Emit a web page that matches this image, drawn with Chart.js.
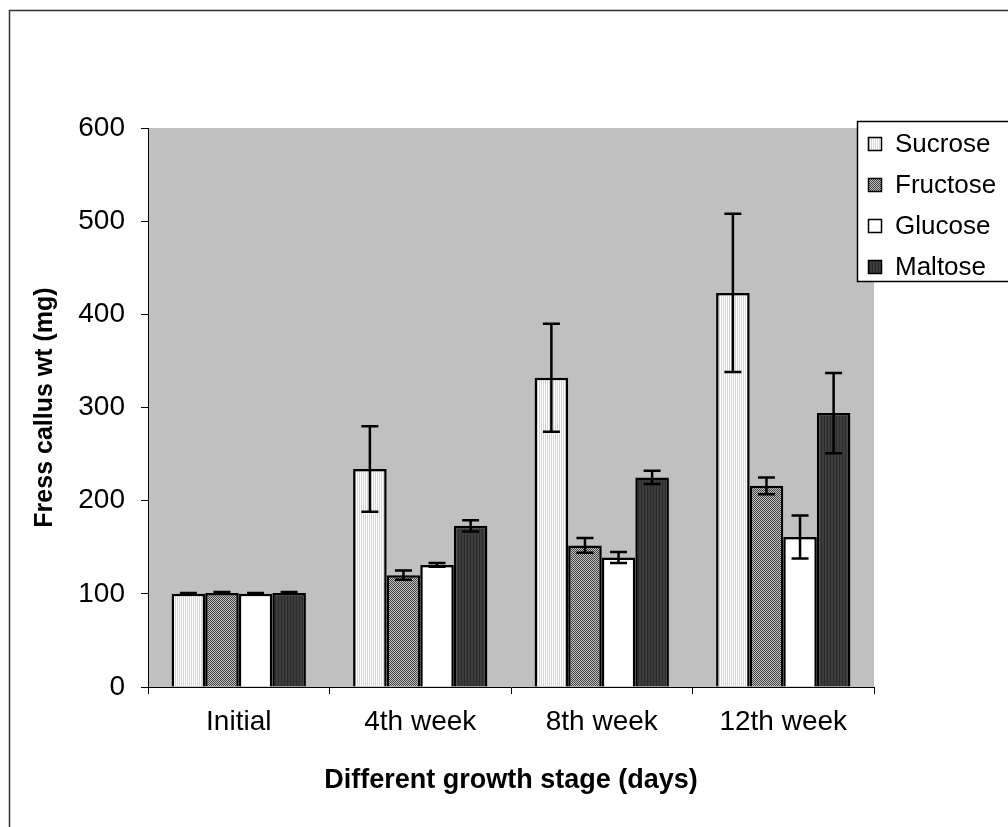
<!DOCTYPE html>
<html>
<head>
<meta charset="utf-8">
<script src="https://cdn.jsdelivr.net/npm/chart.js@4/dist/chart.umd.min.js"></script>
<style>
  html, body { margin: 0; padding: 0; background: #fff; }
  #wrap { width: 1008px; height: 827px; position: relative; }
</style>
</head>
<body>
<div id="wrap"><canvas id="callusChart" width="1008" height="827"></canvas></div>
<script>
// categories and values
const categories = ["Initial", "4th week", "8th week", "12th week"];
const sucrose = [100, 234, 332, 423];
const sucroseErr = [1, 46, 58, 85];
const fructose = [101, 120, 152, 216];
const fructoseErr = [1, 5, 8, 9];
const glucose = [100, 131, 139, 161];
const glucoseErr = [1, 2, 6, 23];
const maltose = [101, 173, 225, 294];
const maltoseErr = [1, 6, 7, 43];
const yTicks = [0, 100, 200, 300, 400, 500, 600];

// small fill patterns, like the old office chart
function makePattern(w, h, paint) {
    let c = document.createElement("canvas");
    c.width = w;
    c.height = h;
    let p = c.getContext("2d");
    paint(p);
    return p.createPattern(c, "repeat");
}

let patSucrose = makePattern(2, 1, function (p) {
    p.fillStyle = "#ffffff"; p.fillRect(0, 0, 1, 1);
    p.fillStyle = "#d6d6d6"; p.fillRect(1, 0, 1, 1);
});
let patFructose = makePattern(2, 2, function (p) {
    p.fillStyle = "#c4c4c4"; p.fillRect(0, 0, 2, 2);
    p.fillStyle = "#404040"; p.fillRect(0, 0, 1, 1); p.fillRect(1, 1, 1, 1);
});
let patGlucose = "#ffffff";
let patMaltose = makePattern(3, 1, function (p) {
    p.fillStyle = "#3c3c3c"; p.fillRect(0, 0, 3, 1);
    p.fillStyle = "#2e2e2e"; p.fillRect(2, 0, 1, 1);
});

const errors = [sucroseErr, fructoseErr, glucoseErr, maltoseErr];

let plotBackground = {
    id: "plotBackground",
    beforeDraw(chart) {
        let c = chart.ctx, a = chart.chartArea;
        c.save();
        // figure frame (right and bottom run off the picture)
        c.strokeStyle = "#333333";
        c.lineWidth = 1.5;
        c.strokeRect(9.5, 10.5, 1100, 1000);
        c.fillStyle = "#c0c0c0";
        c.fillRect(a.left, a.top, a.right - a.left, a.bottom - a.top);
        c.restore();
    }
};

let errorBars = {
    id: "errorBars",
    afterDatasetsDraw(chart) {
        let c = chart.ctx, y = chart.scales.y;
        c.save();
        c.strokeStyle = "#000";
        c.lineWidth = 2.5;
        chart.data.datasets.forEach(function (ds, i) {
            let meta = chart.getDatasetMeta(i);
            meta.data.forEach(function (bar, j) {
                let v = ds.data[j], e = errors[i][j];
                let top = y.getPixelForValue(v + e);
                let bot = y.getPixelForValue(v - e);
                c.beginPath();
                c.moveTo(bar.x, top); c.lineTo(bar.x, bot);
                c.moveTo(bar.x - 8.5, top); c.lineTo(bar.x + 8.5, top);
                c.moveTo(bar.x - 8.5, bot); c.lineTo(bar.x + 8.5, bot);
                c.stroke();
            });
        });
        c.restore();
    }
};

let boxLegend = {
    id: "boxLegend",
    afterDraw(chart) {
        let c = chart.ctx;
        c.save();
        c.fillStyle = "#ffffff";
        c.fillRect(857, 121, 170, 160);
        c.strokeStyle = "#000";
        c.lineWidth = 1.5;
        c.strokeRect(857.5, 121.5, 170, 160);
        c.font = "26px 'Liberation Sans', Arial, sans-serif";
        c.textBaseline = "middle";
        chart.data.datasets.forEach(function (ds, i) {
            let cy = 144 + i * 41;
            c.fillStyle = ds.backgroundColor;
            c.fillRect(868, cy - 7, 14, 14);
            c.lineWidth = 1.5;
            c.strokeRect(868.5, cy - 6.5, 13, 13);
            c.fillStyle = "#000";
            c.fillText(ds.label, 895, cy + 1);
        });
        c.restore();
    }
};

let ctx = document.getElementById("callusChart").getContext("2d");

let barData = {
    labels: categories,
    datasets: [
        { label: "Sucrose", data: sucrose, backgroundColor: patSucrose },
        { label: "Fructose", data: fructose, backgroundColor: patFructose },
        { label: "Glucose", data: glucose, backgroundColor: patGlucose },
        { label: "Maltose", data: maltose, backgroundColor: patMaltose }
    ]
};
barData.datasets.forEach(function (ds) {
    ds.borderColor = "#000";
    ds.borderWidth = 2.5;
    ds.borderSkipped = "bottom";
    ds.categoryPercentage = 0.74;
    ds.barPercentage = 1.0;
});

let tickFont = { family: "'Liberation Sans', Arial, sans-serif", size: 28 };

let myChart = new Chart(ctx, {
    type: "bar",
    data: barData,
    plugins: [plotBackground, errorBars, boxLegend],
    options: {
        responsive: false,
        animation: false,
        layout: { padding: { left: 0, right: 134, top: 128, bottom: 0 } },
        plugins: {
            legend: { display: false },
            tooltip: { enabled: false }
        },
        scales: {
            x: {
                afterFit(scale) { scale.height = 140; },
                grid: { display: true, drawOnChartArea: false, drawTicks: true, tickLength: 7, color: "#000", offset: true },
                border: { display: true, color: "#000", width: 1 },
                ticks: { color: "#000", font: tickFont, padding: 11, maxRotation: 0 },
                title: {
                    display: true,
                    text: "Different growth stage (days)",
                    color: "#000",
                    font: { family: "'Liberation Sans', Arial, sans-serif", size: 27, weight: "bold" },
                    padding: { top: 0, bottom: 30 }
                }
            },
            y: {
                min: 0,
                max: 600,
                afterFit(scale) { scale.width = 148; },
                afterBuildTicks(scale) { scale.ticks = yTicks.map(function (v) { return { value: v }; }); },
                grid: { display: true, drawOnChartArea: false, drawTicks: true, tickLength: 7, color: "#000" },
                border: { display: true, color: "#000", width: 1 },
                ticks: { color: "#000", font: tickFont, padding: 16 },
                title: {
                    display: true,
                    text: "Fress callus wt (mg)",
                    color: "#000",
                    font: { family: "'Liberation Sans', Arial, sans-serif", size: 25, weight: "bold" },
                    padding: { top: 30, bottom: 0 }
                }
            }
        }
    }
});
</script>
</body>
</html>
